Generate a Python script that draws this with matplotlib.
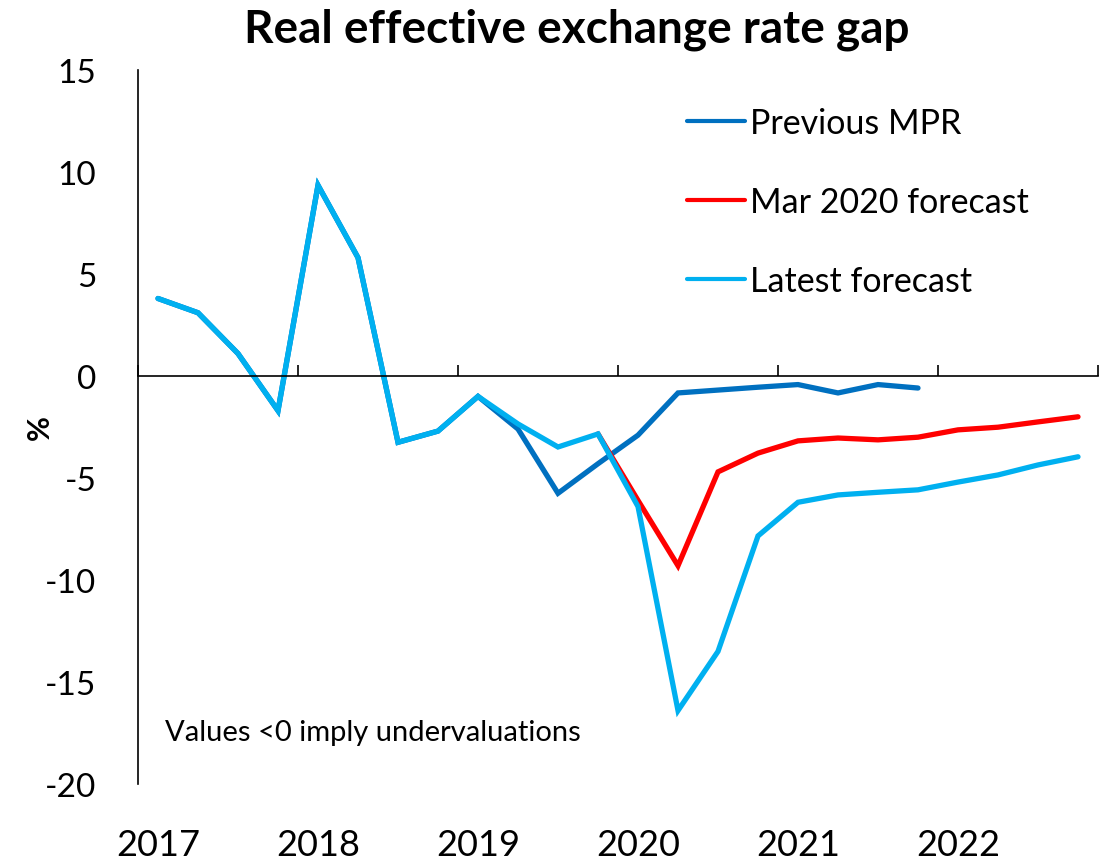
import numpy as np
import matplotlib.pyplot as plt
from matplotlib.transforms import blended_transform_factory

plt.rcParams['axes.unicode_minus'] = False

# Quarterly data, 2017Q1 - 2022Q4
years = ['2017', '2018', '2019', '2020', '2021', '2022']
history = [3.8, 3.1, 1.1, -1.7, 9.35, 5.8, -3.25, -2.7, -1.0]

previous_mpr = history + [-2.6, -5.75, -4.3, -2.9, -0.83, -0.69, -0.55, -0.42,
                          -0.83, -0.42, -0.59]
mar2020 = [None] * 11 + [-2.84, -6.1, -9.3, -4.7, -3.78, -3.18, -3.04, -3.13,
                         -3.0, -2.64, -2.51, -2.25, -2.0]
latest = history + [-2.35, -3.48, -2.84, -6.4, -16.4, -13.5, -7.84, -6.19,
                    -5.83, -5.7, -5.58, -5.2, -4.85, -4.36, -3.96]

c_prev = '#0070C0'
c_mar = '#FF0000'
c_latest = '#00B0F0'
font = 'Lato'

fig = plt.figure(figsize=(11.15, 8.62), dpi=100)
ax = fig.add_axes([138 / 1115, 1 - 785 / 862, (1098 - 138) / 1115, (785 - 71) / 862])

x_prev = np.arange(len(previous_mpr))
x_all = np.arange(len(latest))
mar_x = [i for i, v in enumerate(mar2020) if v is not None]
mar_y = [v for v in mar2020 if v is not None]

lw = 3.8
ax.plot(x_prev, previous_mpr, color=c_prev, lw=lw, label='Previous MPR',
        solid_joinstyle='miter', solid_capstyle='round')
ax.plot(mar_x, mar_y, color=c_mar, lw=lw, label='Mar 2020 forecast',
        solid_joinstyle='miter', solid_capstyle='round')
ax.plot(x_all, latest, color=c_latest, lw=lw, label='Latest forecast',
        solid_joinstyle='miter', solid_capstyle='round')

ax.set_xlim(-0.5, 23.5)
ax.set_ylim(-20, 15)
ax.set_yticks(np.arange(-20, 16, 5))
ax.tick_params(axis='y', length=0, labelsize=24, pad=30)
for lab in ax.get_yticklabels():
    lab.set_fontfamily(font)

ax.spines['top'].set_visible(False)
ax.spines['right'].set_visible(False)
ax.spines['bottom'].set_position(('data', 0))
ax.spines['left'].set_linewidth(1.2)
ax.spines['bottom'].set_linewidth(1.2)

ax.set_xticks(np.arange(-0.5, 24, 4))
ax.set_xticklabels([])
ax.tick_params(axis='x', direction='in', length=8, width=1.2)

trans = blended_transform_factory(ax.transData, ax.transAxes)
for i, yr in enumerate(years):
    ax.text(i * 4, -0.085, yr, transform=trans, ha='center', va='center',
            fontsize=26, family=font)

ax.set_ylabel('%', fontsize=22, fontweight='bold', family=font)
ax.yaxis.set_label_coords(-0.088, 0.5)

fig.text(0.517, 0.965, 'Real effective exchange rate gap', ha='center', va='center',
         fontsize=33, fontweight='bold', family=font)

ax.text(0.028, 0.073, 'Values <0 imply undervaluations', transform=ax.transAxes,
        ha='left', va='center', fontsize=21, family=font)

leg = ax.legend(loc='upper left', bbox_to_anchor=(0.572, 0.948), frameon=False,
                prop={'family': font, 'size': 24.5}, handlelength=1.7,
                handletextpad=0.15, labelspacing=1.38, borderpad=0,
                borderaxespad=0)
for h in leg.get_lines():
    h.set_linewidth(3.0)

fig.savefig('out.png', dpi=100)
